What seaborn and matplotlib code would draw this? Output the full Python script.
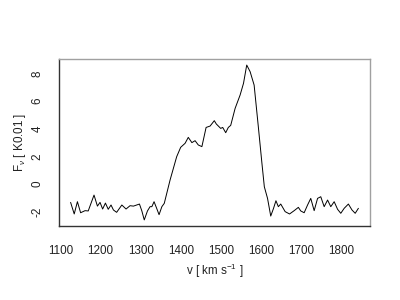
import numpy as np
import pandas as pd
import matplotlib
matplotlib.use("Agg")
import matplotlib.pyplot as plt
import seaborn as sns

velocity = [1125, 1134, 1142, 1150, 1161, 1169, 1183.5, 1192, 1198.5, 1205, 1212, 1219,
            1226, 1232, 1240, 1253, 1263.5, 1273.5, 1282, 1290, 1297, 1303, 1309, 1317,
            1323.5, 1328, 1333.5, 1340, 1346, 1353, 1359, 1373.5, 1390, 1400, 1411, 1419,
            1428, 1436, 1444, 1453, 1463.5, 1473.5, 1484, 1489, 1500, 1505, 1512.5, 1519,
            1525, 1536, 1548.5, 1557, 1565, 1573.5, 1583.5, 1594, 1603, 1609, 1617, 1625,
            1632, 1638, 1644, 1650, 1661, 1672, 1683.5, 1694, 1700, 1708.5, 1717, 1725,
            1733.5, 1742, 1750, 1758.5, 1767, 1775, 1783.5, 1792, 1800, 1808.5, 1819,
            1828, 1836, 1844]
flux = [-1.33, -2.17, -1.28, -2.08, -1.93, -1.95, -0.80, -1.60, -1.33, -1.81, -1.38, -1.83,
        -1.52, -1.88, -2.05, -1.52, -1.81, -1.57, -1.60, -1.52, -1.45, -1.95, -2.60, -1.95,
        -1.64, -1.64, -1.28, -1.76, -2.22, -1.64, -1.40, 0.29, 1.98, 2.66, 2.95, 3.38,
        3.00, 3.14, 2.83, 2.71, 4.10, 4.20, 4.59, 4.35, 4.03, 4.10, 3.72, 4.10,
        4.25, 5.48, 6.45, 7.30, 8.62, 8.14, 7.17, 4.15, 1.50, -0.20, -1.04, -2.32,
        -1.76, -1.21, -1.64, -1.45, -2.00, -2.17, -1.93, -1.69, -1.95, -2.08, -1.52, -1.04,
        -1.93, -1.04, -0.92, -1.64, -1.16, -1.64, -1.28, -1.83, -2.12, -1.76, -1.45,
        -1.88, -2.12, -1.76]
x_ticks = [1100, 1200, 1300, 1400, 1500, 1600, 1700, 1800]
y_ticks = [-2, 0, 2, 4, 6, 8]

df = pd.DataFrame({"v": velocity, "F": flux})

sns.set_style("white")
plt.rcParams["font.family"] = ["Liberation Sans", "DejaVu Sans"]
plt.rcParams["mathtext.fontset"] = "custom"
plt.rcParams["mathtext.rm"] = "Liberation Sans"
plt.rcParams["mathtext.it"] = "Liberation Sans:italic"

fig = plt.figure(figsize=(4, 3), dpi=100)
ax = fig.add_axes([0.1475, 0.2467, 0.7775, 0.5567])
sns.lineplot(data=df, x="v", y="F", ax=ax, color="black", linewidth=0.7,
             sort=False, estimator=None)

ax.set_xlim(1096, 1873)
ax.set_ylim(-3.04, 9.06)
ax.set_xticks(x_ticks)
ax.set_yticks(y_ticks)
ax.set_xticklabels([str(t) for t in x_ticks], fontsize=8.4, color="#222222")
ax.set_yticklabels([str(t) for t in y_ticks], fontsize=8.4, rotation=90, va="center",
                   color="#222222")
ax.tick_params(axis="both", direction="in", length=2.5, width=0.8, color="#333333")
ax.tick_params(axis="x", pad=14)
ax.tick_params(axis="y", pad=11)

ax.set_xlabel(r"v [ km s$^{-1}$ ]", fontsize=8.4, labelpad=3, color="#222222")
ax.set_ylabel(r"F$_{\nu}$ [ K0.01 ]", fontsize=8.4, labelpad=3, color="#222222")

for side in ["top", "right"]:
    ax.spines[side].set_color("#a0a0a0")
    ax.spines[side].set_linewidth(1.0)
for side in ["left", "bottom"]:
    ax.spines[side].set_color("#333333")
    ax.spines[side].set_linewidth(1.0)
    ax.spines[side].set_visible(True)

fig.savefig("out.png", dpi=100)
